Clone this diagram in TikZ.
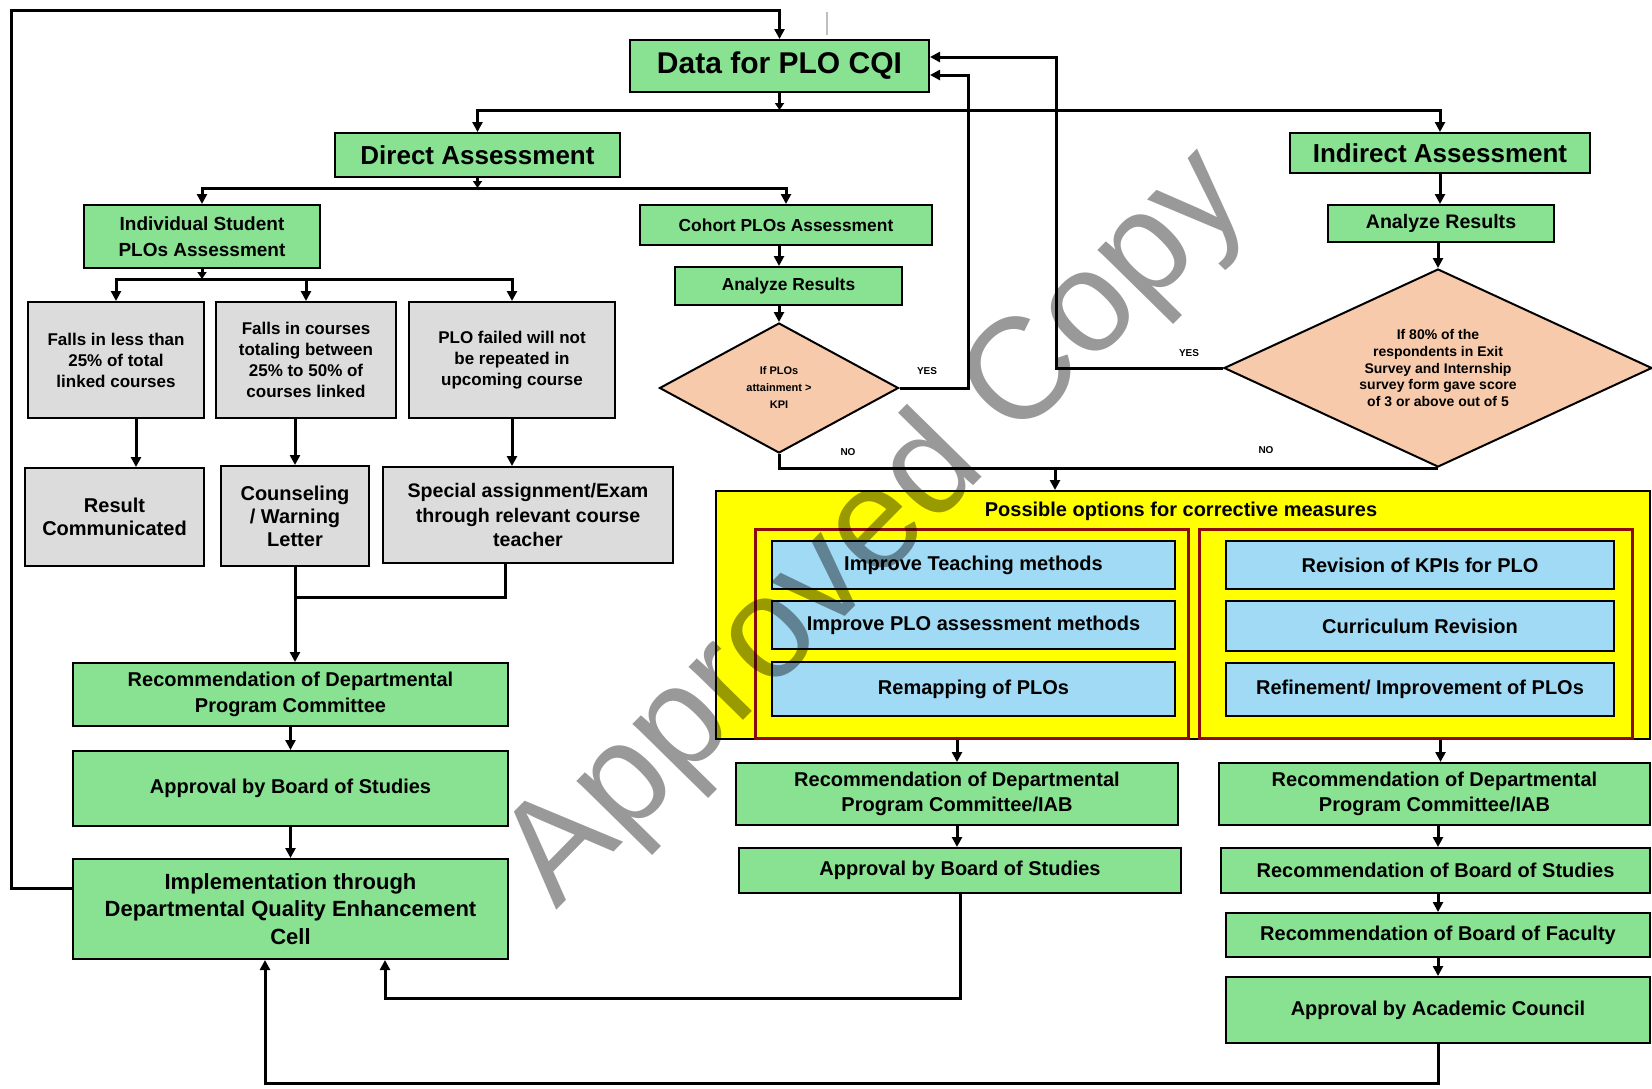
\documentclass[tikz,border=0pt]{standalone}
\usepackage{fontspec}
\setmainfont{Liberation Sans}
\usetikzlibrary{arrows.meta,shapes.geometric}
\definecolor{boxgreen}{RGB}{137,226,146}
\definecolor{boxgray}{RGB}{220,220,220}
\definecolor{peach}{RGB}{247,202,172}
\definecolor{skyblue}{RGB}{160,218,244}
\definecolor{brightyellow}{RGB}{255,255,0}
\definecolor{darkred}{RGB}{140,10,10}
\newcommand{\fsz}[2]{\fontsize{#1}{#2}\selectfont\bfseries}

\begin{document}
\begin{tikzpicture}[x=0.5pt,y=-0.5pt,
  base/.style={draw=black, line width=1pt, inner sep=1pt, align=center},
  gbox/.style={base, fill=boxgreen},
  greybox/.style={base, fill=boxgray},
  bluebox/.style={base, fill=skyblue, font=\fsz{10}{12}},
  redframe/.style={draw=darkred, line width=1.5pt, inner sep=0pt},
  decision/.style={base, diamond, fill=peach, inner sep=0pt},
  conn/.style={line width=1.5pt, draw=black},
  arr/.style={conn, -{Triangle[length=5pt,width=5pt]}},
  stub/.style={conn, -{Triangle[length=3.5pt,width=4.5pt]}},
  tag/.style={font=\fsz{5}{6}, inner sep=0pt},
]
\fill[white] (0,0) rectangle (1652,1088);
\useasboundingbox (0,0) rectangle (1652,1088);

% ---- top of the flow ----
\node[gbox, minimum width=149.5pt, minimum height=26pt, font=\fsz{15}{18}] (data) at (779.5,66) {Data for PLO CQI};
\node[gbox, minimum width=142.5pt, minimum height=22pt, font=\fsz{13}{15}] (direct) at (477.5,155) {Direct Assessment};
\node[gbox, minimum width=150pt, minimum height=20pt, font=\fsz{13}{15}] (indirect) at (1440,153) {Indirect Assessment};

% ---- direct assessment branch ----
\node[gbox, minimum width=118pt, minimum height=31.5pt, font=\fsz{9.5}{13}] (indiv) at (202,236.5) {Individual Student\\PLOs Assessment};
\node[gbox, minimum width=146pt, minimum height=20pt, font=\fsz{8.7}{10}] (cohort) at (786,225) {Cohort PLOs Assessment};
\node[gbox, minimum width=113.5pt, minimum height=19pt, font=\fsz{8.7}{10}] (anL) at (788.5,286) {Analyze Results};
\node[decision, minimum width=119.5pt, minimum height=65pt, aspect=1.84, font=\fsz{5.5}{8.5}] (dia1) at (779,388) {If PLOs\\attainment >\\KPI};

\node[greybox, minimum width=88pt, minimum height=58pt, font=\fsz{8.5}{10.5}] (gA) at (116,360) {Falls in less than\\25\% of total\\linked courses};
\node[greybox, minimum width=90pt, minimum height=58pt, font=\fsz{8.5}{10.5}] (gB) at (306,360) {Falls in courses\\totaling between\\25\% to 50\% of\\courses linked};
\node[greybox, minimum width=103pt, minimum height=58pt, font=\fsz{8.5}{10.5}] (gC) at (512,360) {PLO failed will not\\be repeated in\\upcoming course};

\node[greybox, minimum width=89.5pt, minimum height=49pt, font=\fsz{10}{11.7}] (rA) at (114.5,517) {Result\\Communicated};
\node[greybox, minimum width=74pt, minimum height=50pt, font=\fsz{10}{11.5}] (rB) at (295,516) {Counseling\\/ Warning\\Letter};
\node[greybox, minimum width=145pt, minimum height=48pt, font=\fsz{9.8}{12.3}] (rC) at (528,515) {Special assignment/Exam\\through relevant course\\teacher};

\node[gbox, minimum width=217.5pt, minimum height=31.5pt, font=\fsz{10}{13}] (recL) at (290.5,694.5) {Recommendation of Departmental\\Program Committee};
\node[gbox, minimum width=217.5pt, minimum height=37.5pt, font=\fsz{10}{12}] (appL) at (290.5,788.5) {Approval by Board of Studies};
\node[gbox, minimum width=217.5pt, minimum height=50pt, font=\fsz{11}{13.7}] (impl) at (290.5,909) {Implementation through\\Departmental Quality Enhancement\\Cell};

% ---- indirect assessment branch ----
\node[gbox, minimum width=113pt, minimum height=18.5pt, font=\fsz{9.8}{11}] (anR) at (1441,223.5) {Analyze Results};
\node[decision, minimum width=214pt, minimum height=99pt, aspect=2.16, font=\fsz{7}{8.3}] (dia2) at (1438,368) {If 80\% of the\\respondents in Exit\\Survey and Internship\\survey form gave score\\of 3 or above out of 5};

% ---- corrective measures panel ----
\node[base, fill=brightyellow, minimum width=467pt, minimum height=124pt] (yellow) at (1183,615) {};
\node[font=\fsz{10}{12}, inner sep=0pt] (ytitle) at (1181,511) {Possible options for corrective measures};
\node[redframe, minimum width=216.5pt, minimum height=104.5pt] (redL) at (971.5,633.5) {};
\node[redframe, minimum width=216.5pt, minimum height=104.5pt] (redR) at (1415.5,633.5) {};

\node[bluebox, minimum width=201.5pt, minimum height=24pt] (bL1) at (973.5,565) {Improve Teaching methods};
\node[bluebox, minimum width=201.5pt, minimum height=24pt] (bL2) at (973.5,625) {Improve PLO assessment methods};
\node[bluebox, minimum width=201.5pt, minimum height=27pt] (bL3) at (973.5,689) {Remapping of PLOs};
\node[bluebox, minimum width=194pt, minimum height=24pt] (bR1) at (1420,565) {Revision of KPIs for PLO};
\node[bluebox, minimum width=194pt, minimum height=25pt] (bR2) at (1420,626) {Curriculum Revision};
\node[bluebox, minimum width=194pt, minimum height=26.5pt] (bR3) at (1420,689.5) {Refinement/ Improvement of PLOs};

% ---- approval chains ----
\node[gbox, minimum width=221pt, minimum height=31pt, font=\fsz{10}{12.5}] (recM) at (957,794) {Recommendation of Departmental\\Program Committee/IAB};
\node[gbox, minimum width=221pt, minimum height=22.5pt, font=\fsz{10}{12}] (appM) at (960,870.5) {Approval by Board of Studies};
\node[gbox, minimum width=215.5pt, minimum height=31pt, font=\fsz{10}{12.5}] (recR) at (1434.5,794) {Recommendation of Departmental\\Program Committee/IAB};
\node[gbox, minimum width=214.5pt, minimum height=22.5pt, font=\fsz{10}{12}] (bosR) at (1435.5,870.5) {Recommendation of Board of Studies};
\node[gbox, minimum width=212pt, minimum height=22pt, font=\fsz{10}{12}] (bofR) at (1438,935) {Recommendation of Board of Faculty};
\node[gbox, minimum width=212pt, minimum height=33pt, font=\fsz{10}{12}] (acR) at (1438,1010) {Approval by Academic Council};

% ---- decision labels ----
\node[tag] (yes1) at (927,371) {YES};
\node[tag] (yes2) at (1189,353) {YES};
\node[tag] (no1) at (848,452) {NO};
\node[tag] (no2) at (1266,450) {NO};

% ---- connectors ----
% feedback loop from implementation back to the data
\draw[arr] ([yshift=10.5pt]impl.west) -- (11,888) -- (11,10) -| (data.north);

% data splits into direct and indirect assessment
\coordinate (busA) at (779.5,110);
\draw[stub] (data.south) -- (busA);
\draw[arr] (busA) -| (direct.north);
\draw[arr] (busA) -| (indirect.north);

% direct assessment splits
\coordinate (busB) at (477.5,188);
\draw[stub] (direct.south) -- (busB);
\draw[arr] (busB) -| (indiv.north);
\draw[arr] (busB) -| (cohort.north);

% individual student outcomes
\coordinate (busC) at (202,279);
\draw[stub] (indiv.south) -- (busC);
\draw[arr] (busC) -| (gA.north);
\draw[arr] (busC) -| (gB.north);
\draw[arr] (busC) -| (gC.north);

\draw[arr] ([xshift=10pt]gA.south) -- ([xshift=10pt]gA.south |- rA.north);
\draw[arr] (rB.north |- gB.south) -- (rB.north);
\draw[arr] (gC.south) -- (gC.south |- rC.north);

\coordinate (mergeL) at (295,597);
\draw[conn] (rB.south) -- (mergeL);
\draw[conn] ([xshift=-11.5pt]rC.south) |- (mergeL);
\draw[arr] (mergeL) -- (mergeL |- recL.north);
\draw[arr] (recL.south) -- (appL.north);
\draw[arr] (appL.south) -- (impl.north);

% cohort chain
\draw[arr] (dia1.north |- cohort.south) -- (dia1.north |- anL.north);
\draw[arr] (dia1.north |- anL.south) -- (dia1.north);

% indirect chain
\draw[arr] (indirect.south) -- (indirect.south |- anR.north);
\draw[arr] (dia2.north |- anR.south) -- (dia2.north);

% YES branches return to the data
\draw[arr] (dia1.east) -| (968,75) -- ([yshift=-4.5pt]data.east);
\draw[arr] (dia2.west) -| (1056,57) -- ([yshift=4.5pt]data.east);

% NO branches lead to corrective measures
\draw[conn] (dia1.south) |- (dia2.south);
\coordinate (noJoin) at (1055,467);
\draw[arr] (noJoin) -- (noJoin |- yellow.north);

% approval chains
\draw[arr] (recM.north |- yellow.south) -- (recM.north);
\draw[arr] ([xshift=3pt]recR.north |- yellow.south) -- ([xshift=3pt]recR.north);
\draw[arr] (recM.south) -- (recM.south |- appM.north);
\draw[arr] (acR.north |- recR.south) -- (acR.north |- bosR.north);
\draw[arr] (acR.north |- bosR.south) -- (acR.north |- bofR.north);
\draw[arr] (acR.north |- bofR.south) -- (acR.north);

% approvals feed the implementation cell
\draw[arr] (appM.south) -- (960,998) -| ([xshift=47.25pt]impl.south);
\draw[arr] (acR.south) -- (1438,1083) -| ([xshift=-12.75pt]impl.south);

% stray mark near the top
\draw[gray!50, line width=0.6pt] (827,12) -- (827,35);

% watermark
\node[rotate=45.5, text=black, text opacity=0.4, inner sep=0pt, font=\fontsize{72}{80}\selectfont\mdseries] (wm) at (878,530) {Approved Copy};
\end{tikzpicture}
\end{document}
